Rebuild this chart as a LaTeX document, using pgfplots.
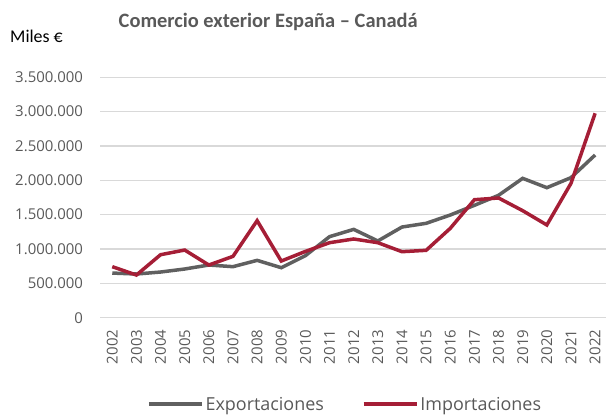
\documentclass[border=0pt]{standalone}
\usepackage{pgfplots}
\pgfplotsset{compat=1.18}
\usepackage{pgfplotstable}
\usepackage{fontspec}
\setmainfont{Carlito}
\newfontfamily\osans{Open Sans}
\definecolor{expc}{HTML}{606060}
\definecolor{impc}{HTML}{A51E36}
\definecolor{gridc}{HTML}{D9D9D9}
\definecolor{txt}{HTML}{595959}

\pgfplotstableread{
year exp imp
2002 650000 743000
2003 636000 621000
2004 665000 917000
2005 709000 985000
2006 767000 767000
2007 743000 893000
2008 835000 1413000
2009 728000 825000
2010 903000 965000
2011 1180000 1092000
2012 1286000 1146000
2013 1117000 1092000
2014 1320000 961000
2015 1374000 981000
2016 1495000 1301000
2017 1636000 1718000
2018 1782000 1743000
2019 2029000 1558000
2020 1893000 1350000
2021 2039000 1956000
2022 2369000 2976000
}\datatable

\begin{document}
\begin{tikzpicture}
\begin{axis}[
  at={(0,0)}, anchor=south west,
  scale only axis, width=507bp, height=240.4bp,
  xmin=2001.5, xmax=2022.5, ymin=0, ymax=3500000,
  xtick={2002,2003,...,2022},
  ytick={0,500000,1000000,1500000,2000000,2500000,3000000,3500000},
  scaled y ticks=false,
  axis line style={draw=none},
  major tick length=0pt,
  ymajorgrids, grid style={gridc, line width=1.2bp},
  tick label style={font=\osans\fontsize{15}{15}\selectfont, text=txt, inner sep=0pt},
  yticklabel style={/pgf/number format/.cd, fixed, 1000 sep={.}, assume math mode=true},
  xticklabel style={rotate=90, anchor=east, /pgf/number format/.cd, 1000 sep={}, assume math mode=true},
  xticklabel shift=12bp,
  yticklabel shift=17bp,
  legend columns=2,
  legend cell align=left,
  legend style={at={(0.483,-0.36)}, anchor=center, draw=none, fill=none,
    font=\osans\fontsize{18}{18}\selectfont, text=txt,
    /tikz/every even column/.append style={column sep=36bp}},
  legend image code/.code={\draw[#1] (0bp,0bp) -- (53bp,0bp);},
]
\addplot[expc, line width=3.5bp] table[x=year, y=exp] {\datatable};
\addlegendentry{Exportaciones}
\addplot[impc, line width=3.5bp] table[x=year, y=imp] {\datatable};
\addlegendentry{Importaciones}
\end{axis}
\node[anchor=base, inner sep=0pt, text=txt, font=\bfseries\fontsize{20.5}{20.5}\selectfont] at (168bp,289.7bp) {Comercio exterior España – Canadá};
\node[anchor=base west, inner sep=0pt, font=\fontsize{18}{18}\selectfont] at (-90.2bp,274.7bp) {Miles €};
\pgfresetboundingbox
\path[use as bounding box] (-100.2bp,-97.3bp) rectangle (505.8bp,317.7bp);
\end{tikzpicture}
\end{document}
